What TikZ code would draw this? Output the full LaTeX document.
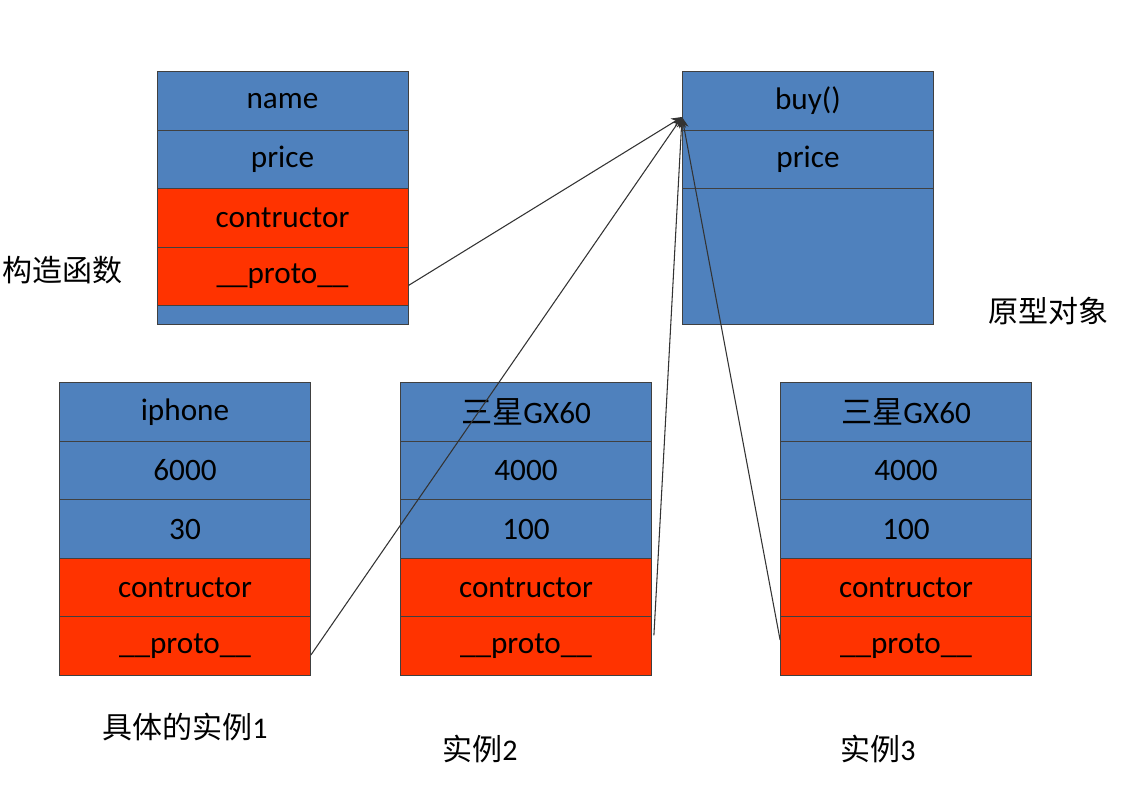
\documentclass[tikz,border=0pt]{standalone}
\usepackage{fontspec}
\setmainfont{Carlito}
\newfontfamily\cjk{Noto Sans CJK SC}
\usetikzlibrary{arrows.meta}
\definecolor{cblue}{HTML}{4F81BD}
\definecolor{cred}{HTML}{FF3300}
\begin{document}
\begin{tikzpicture}[x=0.75pt,y=-0.75pt,
  cell/.style={draw=black!75,line width=0.6pt,minimum width=188.25pt,minimum height=43.875pt,inner sep=0pt,font=\fontsize{23.4}{25}\selectfont,text=black},
  bluecell/.style={cell,fill=cblue},
  redcell/.style={cell,fill=cred},
  lab/.style={font=\fontsize{22.5}{24}\selectfont,inner sep=0pt},
  link/.style={draw=black!80,line width=0.8pt,-{Stealth[length=8pt,width=7pt]}}]
\useasboundingbox (0,0) rectangle (1137,798);
% constructor
\node[bluecell] (c1) at (282.5,101) {name};
\node[bluecell] (c2) at (282.5,159.5) {price};
\node[redcell] (c3) at (282.5,218) {contructor};
\node[redcell] (c4) at (282.5,276.5) {\_\_proto\_\_};
\node[bluecell,minimum height=14.25pt] (c5) at (282.5,315) {};
% prototype
\node[bluecell] (p1) at (808,101) {buy()};
\node[bluecell] (p2) at (808,159.5) {price};
\node[bluecell,minimum height=102pt] (p3) at (808,256) {};
% instance 1
\node[bluecell] (a1) at (185,412) {iphone};
\node[bluecell] (a2) at (185,470.5) {6000};
\node[bluecell] (a3) at (185,529) {30};
\node[redcell] (a4) at (185,587.5) {contructor};
\node[redcell] (a5) at (185,646) {\_\_proto\_\_};
% instance 2
\node[bluecell] (b1) at (526,412) {{\cjk 三星}GX60};
\node[bluecell] (b2) at (526,470.5) {4000};
\node[bluecell] (b3) at (526,529) {100};
\node[redcell] (b4) at (526,587.5) {contructor};
\node[redcell] (b5) at (526,646) {\_\_proto\_\_};
% instance 3
\node[bluecell] (k1) at (906,412) {{\cjk 三星}GX60};
\node[bluecell] (k2) at (906,470.5) {4000};
\node[bluecell] (k3) at (906,529) {100};
\node[redcell] (k4) at (906,587.5) {contructor};
\node[redcell] (k5) at (906,646) {\_\_proto\_\_};
% labels
\node[lab,anchor=west] (t1) at (2,270) {\cjk 构造函数};
\node[lab] (t2) at (1048,311) {\cjk 原型对象};
\node[lab] (t3) at (185,727) {{\cjk 具体的实例}1};
\node[lab] (t4) at (480,749) {{\cjk 实例}2};
\node[lab] (t5) at (878,749) {{\cjk 实例}3};
% connectors
\coordinate (tip) at (682,117);
\draw[link] ([yshift=-6.75pt]c4.east) -- (tip);
\draw[link] ([yshift=-6.75pt]a5.east) -- (tip);
\draw[link] ([xshift=1.5pt,yshift=8pt]b5.east) -- (tip);
\draw[link] ([yshift=4.5pt]k5.west) -- (tip);
\end{tikzpicture}
\end{document}
